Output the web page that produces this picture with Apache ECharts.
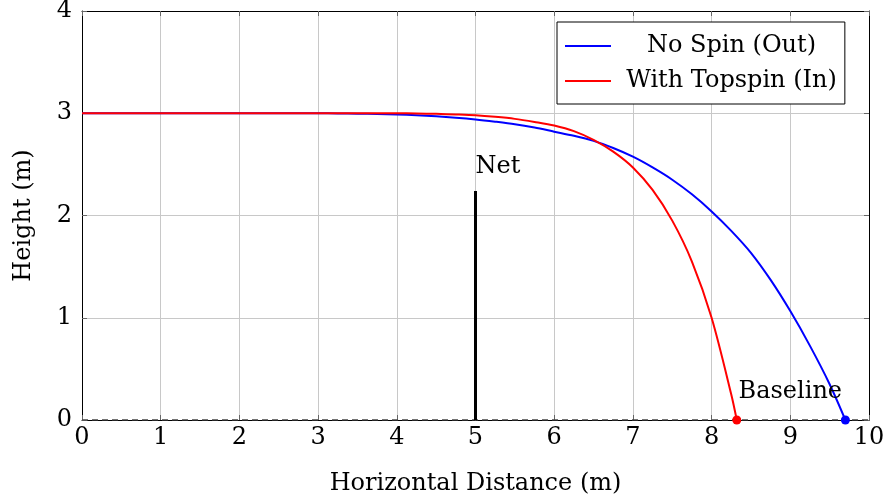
<!DOCTYPE html>
<html>
<head>
<meta charset="utf-8">
<script src="https://cdn.jsdelivr.net/npm/echarts@6/dist/echarts.min.js"></script>
<style>html,body{margin:0;padding:0;background:#fff}#c{width:887px;height:500px}</style>
</head>
<body>
<div id="c"></div>
<script>
var xTicks = [0,1,2,3,4,5,6,7,8,9,10];
var yTicks = [0,1,2,3,4];
var noSpinX = [0,0.5,1,1.5,2,2.5,3,3.25,3.5,3.75,4,4.25,4.5,4.75,5,5.25,5.5,5.75,6,6.25,6.5,6.75,7,7.25,7.5,7.75,8,8.25,8.5,8.75,9,9.25,9.5,9.7];
var noSpinY = [3,3,3,3,3,3,3,2.998,2.996,2.993,2.988,2.98,2.97,2.957,2.94,2.918,2.893,2.86,2.82,2.78,2.73,2.66,2.575,2.47,2.35,2.207,2.04,1.85,1.635,1.37,1.065,0.725,0.35,0];
var topX = [0,0.5,1,1.5,2,2.5,3,3.25,3.5,3.75,4,4.25,4.5,4.75,5,5.25,5.5,5.75,6,6.25,6.5,6.75,7,7.25,7.5,7.75,8,8.25,8.32];
var topY = [3,3,3,3,3,3,3,3,3,3,3,2.998,2.994,2.988,2.98,2.965,2.945,2.915,2.88,2.825,2.74,2.625,2.47,2.25,1.95,1.55,1.0,0.25,0];
var netX = [5,5];
var netY = [0,2.24];
var groundX = [0,10];
var groundY = [0,0];
var landX = [8.32, 9.7];
var landY = [0, 0];
var netLabel = {x:5, y:2.24, text:'Net'};
var baseLabel = {x:9, y:0, text:'Baseline'};
var names = ['No Spin (Out)', 'With Topspin (In)'];

function zip(a,b){return a.map(function(v,i){return [v,b[i]];});}
var FONT = 'DejaVu Serif';
var FS = 24;
var chart = echarts.init(document.getElementById('c'));
var axisCommon = {
  type:'value', min:0,
  axisLine:{show:true, onZero:false, lineStyle:{color:'#000', width:1}},
  axisTick:{show:true, inside:true, length:5, lineStyle:{color:'#666'}},
  splitLine:{show:false}
};
chart.setOption({
  animation:false,
  textStyle:{fontFamily:FONT},
  grid:{left:82, right:18, top:11, bottom:80, show:false, outerBoundsMode:'none', containLabel:false},
  legend:{
    data:[{name:names[0], icon:'rect'},{name:names[1], icon:'rect'}],
    orient:'vertical', left:557, top:22,
    padding:[12,8,11,8], itemGap:11, itemWidth:46, itemHeight:2,
    borderColor:'#000', borderWidth:1, backgroundColor:'#fff',
    formatter:function(n){return '{c|'+n+'}';},
    textStyle:{fontFamily:FONT, fontSize:FS, color:'#000',
      rich:{c:{width:231, align:'center', fontFamily:FONT, fontSize:FS, color:'#000'}}}
  },
  xAxis:[
    Object.assign({}, axisCommon, {max:10, interval:1, position:'bottom',
      splitLine:{show:true, lineStyle:{color:'#c8c8c8', width:1}},
      axisLabel:{color:'#000', fontSize:FS, fontFamily:FONT, margin:6,
        customValues:xTicks},
      name:'Horizontal Distance (m)', nameLocation:'middle', nameGap:52,
      nameTextStyle:{color:'#000', fontSize:FS, fontFamily:FONT}}),
    Object.assign({}, axisCommon, {max:10, interval:1, position:'top', axisLabel:{show:false}})
  ],
  yAxis:[
    Object.assign({}, axisCommon, {max:4, interval:1, position:'left',
      splitLine:{show:true, lineStyle:{color:'#c8c8c8', width:1}},
      axisLabel:{color:'#000', fontSize:FS, fontFamily:FONT, margin:10},
      name:'Height (m)', nameLocation:'middle', nameGap:46,
      nameTextStyle:{color:'#000', fontSize:FS, fontFamily:FONT}}),
    Object.assign({}, axisCommon, {max:4, interval:1, position:'right', axisLabel:{show:false}})
  ],
  series:[
    {type:'line', name:'ground', data:zip(groundX,groundY), symbol:'none', silent:true,
      lineStyle:{color:'#444', width:1.5, type:[6,4]}, z:1},
    {type:'line', name:'net', data:zip(netX,netY), symbol:'none',
      lineStyle:{color:'#000', width:3}, z:3},
    {type:'line', name:names[0], data:zip(noSpinX,noSpinY), smooth:0.3, symbol:'none',
      lineStyle:{color:'#0000ff', width:2}, itemStyle:{color:'#0000ff'}, z:4},
    {type:'line', name:names[1], data:zip(topX,topY), smooth:0.3, symbol:'none',
      lineStyle:{color:'#ff0000', width:2}, itemStyle:{color:'#ff0000'}, z:5},
    {type:'scatter', data:[
        {value:[landX[0],landY[0]], itemStyle:{color:'#ff0000', opacity:1}},
        {value:[landX[1],landY[1]], itemStyle:{color:'#0000ff', opacity:1}}],
      symbolSize:9, itemStyle:{opacity:1}, z:6},
    {type:'scatter', symbolSize:0, z:7, itemStyle:{opacity:1}, data:[
        {value:[netLabel.x,netLabel.y], label:{show:true, formatter:netLabel.text, position:'top', align:'left', distance:12,
          color:'#000', fontSize:FS, fontFamily:FONT}},
        {value:[baseLabel.x,baseLabel.y], label:{show:true, formatter:baseLabel.text, position:'top', distance:16,
          color:'#000', fontSize:FS, fontFamily:FONT}}]}
  ]
});
</script>
</body>
</html>
